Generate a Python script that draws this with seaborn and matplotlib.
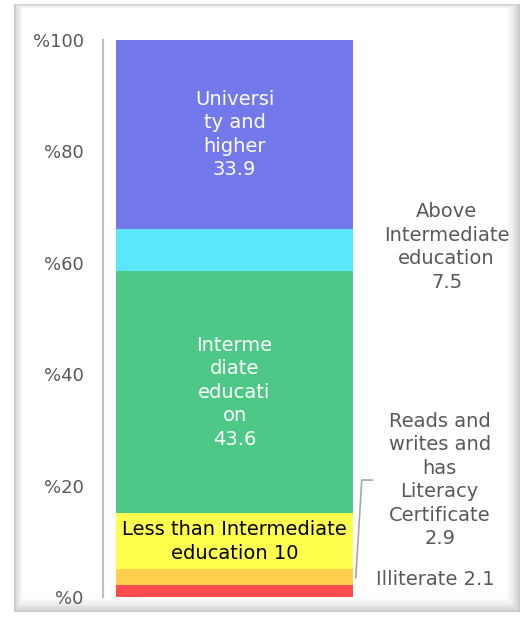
import numpy as np
import pandas as pd
import matplotlib
matplotlib.use("Agg")
import matplotlib.pyplot as plt
from matplotlib.patches import Rectangle
import seaborn as sns

# segments, bottom to top
categories = ["Illiterate", "Reads and writes and has Literacy Certificate",
              "Less than Intermediate education", "Intermediate education",
              "Above Intermediate education", "University and higher"]
values = [2.1, 2.9, 10.0, 43.6, 7.5, 33.9]
colors = ["#FF4D4D", "#FFCF4D", "#FFFF4D", "#4DC886", "#5AE6FB", "#7378EB"]

inside_labels = {
    2: ("Less than Intermediate\neducation 10", "black"),
    3: ("Interme\ndiate\neducati\non\n43.6", "white"),
    5: ("Universi\nty and\nhigher\n33.9", "white"),
}
outside_labels = {
    0: "Illiterate 2.1",
    1: "Reads and\nwrites and\nhas\nLiteracy\nCertificate\n2.9",
    4: "Above\nIntermediate\neducation\n7.5",
}
tick_values = [0, 20, 40, 60, 80, 100]
tick_labels = ["%0", "%20", "%40", "%60", "%80", "%100"]

df = pd.DataFrame({"category": categories, "value": values, "color": colors})
df["top"] = df["value"].cumsum()
df["mid"] = df["top"] - df["value"] / 2

sns.set_style("white")
plt.rcParams["font.family"] = ["DejaVu Sans"]

W, H = 526, 626
fig = plt.figure(figsize=(W / 100, H / 100), dpi=100)
fig.patch.set_facecolor("white")

# frame with soft shadowed border
x0, y0, x1, y1 = 14, 4, 520, 612
n = 12
for k in range(n):
    g = 0.78 + 0.22 * (k / (n - 1)) ** 0.7
    fig.patches.append(Rectangle(((x0 + k * 0.8) / W, 1 - (y1 - k * 1.2) / H),
                                 (x1 - x0 - k * 2.0) / W, (y1 - y0 - k * 1.6) / H,
                                 transform=fig.transFigure, facecolor=(g, g, g),
                                 edgecolor="none", zorder=-10))

ax = fig.add_axes([103 / W, 1 - 597 / H, 263 / W, 557 / H])
ax.set_facecolor("none")

# stacked bar: draw cumulative tops from the tallest down
for i in range(len(df) - 1, -1, -1):
    sns.barplot(x=[0], y=[df["top"].iloc[i]], color=df["color"].iloc[i],
                width=0.9, saturation=1, linewidth=0, ax=ax)

ax.set_xlim(-0.5, 0.5)
ax.set_ylim(0, 100)
ax.set_yticks(tick_values)
ax.set_yticklabels(tick_labels, color="#595959", fontsize=13)
ax.tick_params(axis="y", length=0, pad=14)
ax.set_xticks([])
ax.set_xlabel("")
ax.set_ylabel("")
for side in ["top", "right", "bottom"]:
    ax.spines[side].set_visible(False)
ax.spines["left"].set_color("#BFBFBF")
ax.spines["left"].set_linewidth(1.5)

for i, (txt, c) in inside_labels.items():
    ax.text(0, df["mid"].iloc[i], txt, ha="center", va="center", color=c,
            fontsize=14, linespacing=1.3)

right_x = {0: 0.765, 1: 0.78, 4: 0.806}
right_y = {0: 3.1, 1: 21.0, 4: 62.8}
for i, txt in outside_labels.items():
    ax.text(right_x[i], right_y[i], txt, ha="center", va="center",
            color="#595959", fontsize=14, linespacing=1.3, clip_on=False)

# leader line for the small orange segment
ax.plot([0.461, 0.484, 0.525], [3.4, 21.0, 21.0], color="#A6A6A6", lw=1.2,
        clip_on=False)

fig.savefig("out.png", dpi=100)
